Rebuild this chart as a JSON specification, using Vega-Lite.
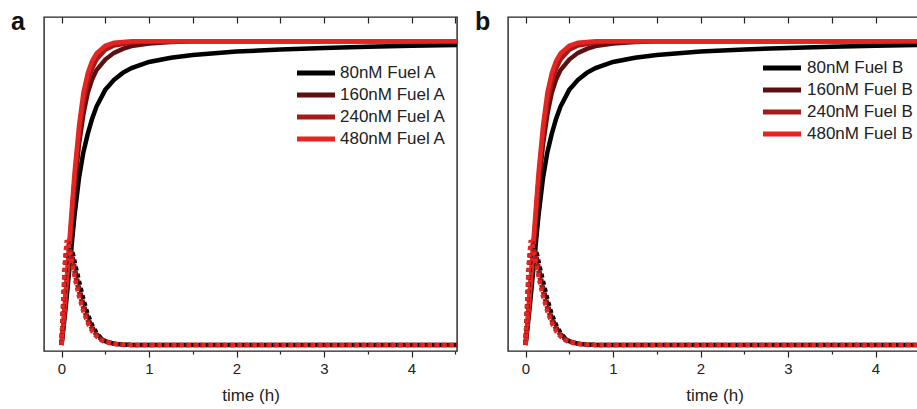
{
  "$schema": "https://vega.github.io/schema/vega-lite/v6.json",
  "padding": {"left": 10, "top": 9, "right": 0, "bottom": 0},
  "background": "white",
  "config": {
    "font": "Liberation Sans",
    "view": {"stroke": "#222", "strokeWidth": 1.4},
    "axis": {"grid": false, "domain": false, "labelColor": "#222", "titleColor": "#222", "tickColor": "#222", "tickWidth": 1.2, "labelFont": "Liberation Sans", "titleFont": "Liberation Sans", "titleFontWeight": "normal"},
    "legend": {"labelFont": "Liberation Sans", "labelColor": "#222", "labelLimit": 300},
    "title": {"font": "Liberation Sans", "fontSize": 25, "fontWeight": "bold", "color": "#111", "anchor": "start", "frame": "group", "baseline": "alphabetic", "offset": -19}
  },
  "datasets": {
    "curves": [
      {"t":0,"y":0,"c":80,"k":"s"},{"t":0.03,"y":0.075,"c":80,"k":"s"},{"t":0.06,"y":0.16,"c":80,"k":"s"},{"t":0.1,"y":0.28,"c":80,"k":"s"},{"t":0.15,"y":0.43,"c":80,"k":"s"},{"t":0.2,"y":0.55,"c":80,"k":"s"},{"t":0.25,"y":0.635,"c":80,"k":"s"},{"t":0.3,"y":0.695,"c":80,"k":"s"},{"t":0.35,"y":0.745,"c":80,"k":"s"},{"t":0.4,"y":0.785,"c":80,"k":"s"},{"t":0.5,"y":0.84,"c":80,"k":"s"},{"t":0.6,"y":0.873,"c":80,"k":"s"},{"t":0.7,"y":0.896,"c":80,"k":"s"},{"t":0.8,"y":0.912,"c":80,"k":"s"},{"t":1,"y":0.932,"c":80,"k":"s"},{"t":1.25,"y":0.946,"c":80,"k":"s"},{"t":1.5,"y":0.955,"c":80,"k":"s"},{"t":2,"y":0.966,"c":80,"k":"s"},{"t":2.5,"y":0.973,"c":80,"k":"s"},{"t":3,"y":0.978,"c":80,"k":"s"},{"t":3.5,"y":0.982,"c":80,"k":"s"},{"t":4,"y":0.985,"c":80,"k":"s"},{"t":4.52,"y":0.988,"c":80,"k":"s"},
      {"t":0,"y":0,"c":160,"k":"s"},{"t":0.03,"y":0.09,"c":160,"k":"s"},{"t":0.06,"y":0.195,"c":160,"k":"s"},{"t":0.1,"y":0.34,"c":160,"k":"s"},{"t":0.15,"y":0.52,"c":160,"k":"s"},{"t":0.2,"y":0.66,"c":160,"k":"s"},{"t":0.25,"y":0.76,"c":160,"k":"s"},{"t":0.3,"y":0.83,"c":160,"k":"s"},{"t":0.35,"y":0.875,"c":160,"k":"s"},{"t":0.4,"y":0.905,"c":160,"k":"s"},{"t":0.5,"y":0.94,"c":160,"k":"s"},{"t":0.6,"y":0.962,"c":160,"k":"s"},{"t":0.7,"y":0.975,"c":160,"k":"s"},{"t":0.8,"y":0.984,"c":160,"k":"s"},{"t":1,"y":0.993,"c":160,"k":"s"},{"t":1.25,"y":0.998,"c":160,"k":"s"},{"t":1.5,"y":1,"c":160,"k":"s"},{"t":3,"y":1,"c":160,"k":"s"},{"t":4.52,"y":1,"c":160,"k":"s"},
      {"t":0,"y":0,"c":240,"k":"s"},{"t":0.03,"y":0.095,"c":240,"k":"s"},{"t":0.06,"y":0.21,"c":240,"k":"s"},{"t":0.1,"y":0.36,"c":240,"k":"s"},{"t":0.15,"y":0.55,"c":240,"k":"s"},{"t":0.2,"y":0.69,"c":240,"k":"s"},{"t":0.25,"y":0.8,"c":240,"k":"s"},{"t":0.3,"y":0.865,"c":240,"k":"s"},{"t":0.35,"y":0.91,"c":240,"k":"s"},{"t":0.4,"y":0.94,"c":240,"k":"s"},{"t":0.5,"y":0.972,"c":240,"k":"s"},{"t":0.6,"y":0.986,"c":240,"k":"s"},{"t":0.8,"y":0.996,"c":240,"k":"s"},{"t":1,"y":0.999,"c":240,"k":"s"},{"t":1.5,"y":1,"c":240,"k":"s"},{"t":3,"y":1,"c":240,"k":"s"},{"t":4.52,"y":1,"c":240,"k":"s"},
      {"t":0,"y":0,"c":480,"k":"s"},{"t":0.03,"y":0.1,"c":480,"k":"s"},{"t":0.06,"y":0.22,"c":480,"k":"s"},{"t":0.1,"y":0.38,"c":480,"k":"s"},{"t":0.15,"y":0.57,"c":480,"k":"s"},{"t":0.2,"y":0.72,"c":480,"k":"s"},{"t":0.25,"y":0.83,"c":480,"k":"s"},{"t":0.3,"y":0.895,"c":480,"k":"s"},{"t":0.35,"y":0.935,"c":480,"k":"s"},{"t":0.4,"y":0.96,"c":480,"k":"s"},{"t":0.5,"y":0.985,"c":480,"k":"s"},{"t":0.6,"y":0.995,"c":480,"k":"s"},{"t":0.8,"y":1,"c":480,"k":"s"},{"t":1.5,"y":1,"c":480,"k":"s"},{"t":3,"y":1,"c":480,"k":"s"},{"t":4.52,"y":1,"c":480,"k":"s"},
      {"t":0,"y":0,"c":80,"k":"d"},{"t":0.02,"y":0.12,"c":80,"k":"d"},{"t":0.04,"y":0.23,"c":80,"k":"d"},{"t":0.06,"y":0.3,"c":80,"k":"d"},{"t":0.08,"y":0.33,"c":80,"k":"d"},{"t":0.1,"y":0.325,"c":80,"k":"d"},{"t":0.13,"y":0.3,"c":80,"k":"d"},{"t":0.16,"y":0.26,"c":80,"k":"d"},{"t":0.2,"y":0.21,"c":80,"k":"d"},{"t":0.25,"y":0.15,"c":80,"k":"d"},{"t":0.3,"y":0.1,"c":80,"k":"d"},{"t":0.35,"y":0.065,"c":80,"k":"d"},{"t":0.4,"y":0.04,"c":80,"k":"d"},{"t":0.45,"y":0.022,"c":80,"k":"d"},{"t":0.5,"y":0.012,"c":80,"k":"d"},{"t":0.6,"y":0.004,"c":80,"k":"d"},{"t":0.7,"y":0.001,"c":80,"k":"d"},{"t":0.8,"y":0,"c":80,"k":"d"},{"t":2,"y":0,"c":80,"k":"d"},{"t":4.52,"y":0,"c":80,"k":"d"},
      {"t":0,"y":0,"c":160,"k":"d"},{"t":0.02,"y":0.13,"c":160,"k":"d"},{"t":0.04,"y":0.25,"c":160,"k":"d"},{"t":0.06,"y":0.32,"c":160,"k":"d"},{"t":0.08,"y":0.335,"c":160,"k":"d"},{"t":0.1,"y":0.32,"c":160,"k":"d"},{"t":0.13,"y":0.285,"c":160,"k":"d"},{"t":0.16,"y":0.24,"c":160,"k":"d"},{"t":0.2,"y":0.19,"c":160,"k":"d"},{"t":0.25,"y":0.135,"c":160,"k":"d"},{"t":0.3,"y":0.09,"c":160,"k":"d"},{"t":0.35,"y":0.058,"c":160,"k":"d"},{"t":0.4,"y":0.036,"c":160,"k":"d"},{"t":0.45,"y":0.021,"c":160,"k":"d"},{"t":0.5,"y":0.012,"c":160,"k":"d"},{"t":0.6,"y":0.004,"c":160,"k":"d"},{"t":0.7,"y":0.001,"c":160,"k":"d"},{"t":0.8,"y":0,"c":160,"k":"d"},{"t":2,"y":0,"c":160,"k":"d"},{"t":4.52,"y":0,"c":160,"k":"d"},
      {"t":0,"y":0,"c":240,"k":"d"},{"t":0.02,"y":0.14,"c":240,"k":"d"},{"t":0.04,"y":0.265,"c":240,"k":"d"},{"t":0.06,"y":0.335,"c":240,"k":"d"},{"t":0.08,"y":0.335,"c":240,"k":"d"},{"t":0.1,"y":0.31,"c":240,"k":"d"},{"t":0.13,"y":0.27,"c":240,"k":"d"},{"t":0.16,"y":0.225,"c":240,"k":"d"},{"t":0.2,"y":0.175,"c":240,"k":"d"},{"t":0.25,"y":0.12,"c":240,"k":"d"},{"t":0.3,"y":0.08,"c":240,"k":"d"},{"t":0.35,"y":0.052,"c":240,"k":"d"},{"t":0.4,"y":0.032,"c":240,"k":"d"},{"t":0.45,"y":0.019,"c":240,"k":"d"},{"t":0.5,"y":0.011,"c":240,"k":"d"},{"t":0.6,"y":0.0035,"c":240,"k":"d"},{"t":0.7,"y":0.001,"c":240,"k":"d"},{"t":0.8,"y":0,"c":240,"k":"d"},{"t":2,"y":0,"c":240,"k":"d"},{"t":4.52,"y":0,"c":240,"k":"d"},
      {"t":0,"y":0,"c":480,"k":"d"},{"t":0.02,"y":0.15,"c":480,"k":"d"},{"t":0.04,"y":0.28,"c":480,"k":"d"},{"t":0.06,"y":0.345,"c":480,"k":"d"},{"t":0.08,"y":0.33,"c":480,"k":"d"},{"t":0.1,"y":0.3,"c":480,"k":"d"},{"t":0.13,"y":0.255,"c":480,"k":"d"},{"t":0.16,"y":0.21,"c":480,"k":"d"},{"t":0.2,"y":0.16,"c":480,"k":"d"},{"t":0.25,"y":0.11,"c":480,"k":"d"},{"t":0.3,"y":0.072,"c":480,"k":"d"},{"t":0.35,"y":0.045,"c":480,"k":"d"},{"t":0.4,"y":0.028,"c":480,"k":"d"},{"t":0.45,"y":0.016,"c":480,"k":"d"},{"t":0.5,"y":0.009,"c":480,"k":"d"},{"t":0.6,"y":0.003,"c":480,"k":"d"},{"t":0.7,"y":0.001,"c":480,"k":"d"},{"t":0.8,"y":0,"c":480,"k":"d"},{"t":2,"y":0,"c":480,"k":"d"},{"t":4.52,"y":0,"c":480,"k":"d"}
    ]
  },
  "hconcat": [
    {
      "width": 413, "height": 334,
      "title": {"text": "a", "dx": -33},
      "data": {"name": "curves"},
      "layer": [
        {
          "transform": [{"filter": "datum.k === 's'"}],
          "mark": {"type": "line", "strokeWidth": 4.5, "clip": true},
          "encoding": {
            "x": {"field": "t", "type": "quantitative", "scale": {"domain": [-0.2, 4.52], "nice": false, "zero": false},
                  "axis": {"orient": "bottom", "values": [0,1,2,3,4], "tickSize": 6, "labelFontSize": 15, "labelPadding": 4, "title": "time (h)", "titleFontSize": 17, "titlePadding": 11}},
            "y": {"field": "y", "type": "quantitative", "scale": {"domain": [-0.02, 1.08], "nice": false, "zero": false},
                  "axis": {"title": "concentration", "ticks": false, "labels": false, "titleFontSize": 17, "titlePadding": 13}},
            "color": {"field": "c", "type": "ordinal", "scale": {"domain": [80,160,240,480], "range": ["#000000","#5c1111","#a8191a","#e62520"]},
                      "legend": {"orient": "none", "legendX": 260, "legendY": 44, "title": null, "symbolType": "M-2,0H2", "symbolSize": 361, "symbolStrokeWidth": 5, "labelFontSize": 17, "labelOffset": 12, "rowPadding": 0, "padding": 0, "labelExpr": "datum.label + 'nM Fuel A'"}}
          }
        },
        {
          "transform": [{"filter": "datum.k === 'd'"}],
          "mark": {"type": "line", "strokeWidth": 4.5, "strokeDash": [4, 3.3], "clip": true},
          "encoding": {
            "x": {"field": "t", "type": "quantitative", "axis": {"orient": "top", "values": [0,0.5,1,1.5,2,2.5,3,3.5,4,4.5], "tickSize": -6, "labels": false, "title": null}},
            "y": {"field": "y", "type": "quantitative", "axis": null},
            "color": {"field": "c", "type": "ordinal", "legend": null}
          }
        },
        {
          "transform": [{"filter": "datum.k === 'd' && datum.c === 80"}],
          "mark": {"type": "line", "opacity": 0},
          "encoding": {
            "x": {"field": "t", "type": "quantitative", "axis": {"orient": "bottom", "values": [0.5,1.5,2.5,3.5,4.5], "tickSize": 3, "labels": false, "title": null}},
            "y": {"field": "y", "type": "quantitative", "axis": null}
          }
        }
      ],
      "resolve": {"axis": {"x": "independent"}}
    },
    {
      "width": 413, "height": 334,
      "title": {"text": "b", "dx": -33},
      "data": {"name": "curves"},
      "layer": [
        {
          "transform": [{"filter": "datum.k === 's'"}],
          "mark": {"type": "line", "strokeWidth": 4.5, "clip": true},
          "encoding": {
            "x": {"field": "t", "type": "quantitative", "scale": {"domain": [-0.2, 4.52], "nice": false, "zero": false},
                  "axis": {"orient": "bottom", "values": [0,1,2,3,4], "tickSize": 6, "labelFontSize": 15, "labelPadding": 4, "title": "time (h)", "titleFontSize": 17, "titlePadding": 11}},
            "y": {"field": "y", "type": "quantitative", "scale": {"domain": [-0.02, 1.08], "nice": false, "zero": false},
                  "axis": {"title": "concentration", "ticks": false, "labels": false, "titleFontSize": 17, "titlePadding": 13}},
            "color": {"field": "c", "type": "ordinal", "scale": {"domain": [80,160,240,480], "range": ["#000000","#5c1111","#a8191a","#e62520"]},
                      "legend": {"orient": "none", "legendX": 262, "legendY": 39, "title": null, "symbolType": "M-2,0H2", "symbolSize": 361, "symbolStrokeWidth": 5, "labelFontSize": 17, "labelOffset": 13, "rowPadding": -4, "padding": 0, "labelExpr": "datum.label + 'nM Fuel B'"}}
          }
        },
        {
          "transform": [{"filter": "datum.k === 'd'"}],
          "mark": {"type": "line", "strokeWidth": 4.5, "strokeDash": [4, 3.3], "clip": true},
          "encoding": {
            "x": {"field": "t", "type": "quantitative", "axis": {"orient": "top", "values": [0,0.5,1,1.5,2,2.5,3,3.5,4,4.5], "tickSize": -6, "labels": false, "title": null}},
            "y": {"field": "y", "type": "quantitative", "axis": null},
            "color": {"field": "c", "type": "ordinal", "legend": null}
          }
        },
        {
          "transform": [{"filter": "datum.k === 'd' && datum.c === 80"}],
          "mark": {"type": "line", "opacity": 0},
          "encoding": {
            "x": {"field": "t", "type": "quantitative", "axis": {"orient": "bottom", "values": [0.5,1.5,2.5,3.5,4.5], "tickSize": 3, "labels": false, "title": null}},
            "y": {"field": "y", "type": "quantitative", "axis": null}
          }
        }
      ],
      "resolve": {"axis": {"x": "independent"}}
    }
  ],
  "spacing": 51,
  "bounds": "flush",
  "resolve": {"scale": {"color": "independent"}, "legend": {"color": "independent"}}
}
